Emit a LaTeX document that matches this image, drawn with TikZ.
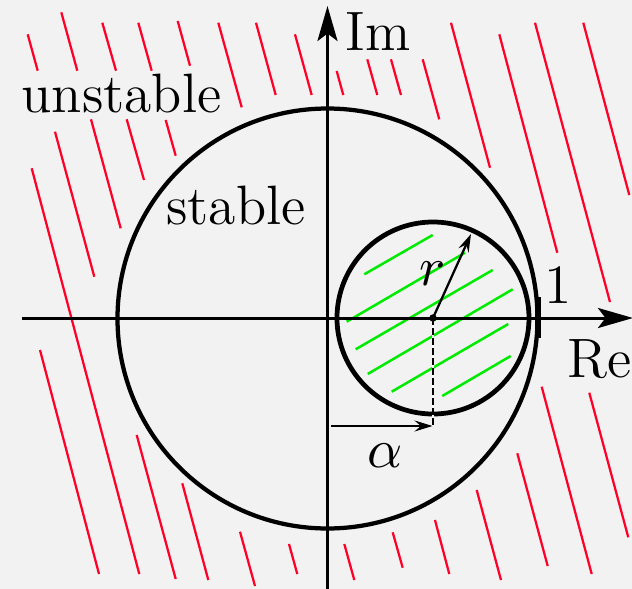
\documentclass[tikz,border=0pt]{standalone}
\usepackage{fontspec}
\usetikzlibrary{arrows.meta}
\definecolor{bgc}{RGB}{242,242,242}
\definecolor{hatchred}{RGB}{255,0,40}
\definecolor{hatchgreen}{RGB}{0,235,0}
\begin{document}
\begin{tikzpicture}[x=0.2pt,y=-0.2pt,
  lbl/.style={inner sep=0pt, font=\fontsize{11.1}{13}\selectfont},
  axisline/.style={line width=0.6pt, -{Stealth[length=7pt,width=4pt,inset=1.5pt]}},
  redh/.style={draw=hatchred, line width=0.45pt},
  greenh/.style={draw=hatchgreen, line width=0.5pt},
  thinarrow/.style={line width=0.45pt, -{Stealth[length=3.6pt,width=2.2pt,inset=1.3pt]}},
  bigcircle/.style={line width=0.85pt},
  smallcircle/.style={line width=0.95pt},
  dashline/.style={line width=0.45pt, dash pattern=on 1.3pt off 0.7pt, preaction={draw=white, line width=0.45pt}},
  ]
\fill[bgc] (0,0) rectangle (632,589);
\useasboundingbox (0,0) rectangle (632,589);

% red hatching (unstable region)
\foreach \a/\b/\c/\d in {
  27.7/34.3/37.7/70.7, 61.3/12.3/77.3/70.7, 102.3/22.7/116/70.7,
  138.3/22.7/151.7/70.7, 177.7/21/190/65.7, 218.3/22.7/241.7/107.3,
  256/22.7/275.7/95, 295/34.3/311.7/95,
  55/131.7/94.3/276.7, 91/119.3/120.7/228.3, 126.7/119.3/144/180,
  165.7/120/175.7/155.7, 31.7/168.3/139.3/574, 40/350/99/574,
  136.7/435/175.7/579, 182.3/483.3/208.3/580, 240/531.7/255/586,
  289/544/297.3/574,
  336.7/71/343.3/95, 367.3/59.3/377.3/95, 391/59.3/401/95,
  422.7/59.3/439.3/119.3, 451/22.7/490/167.7, 499.3/34.3/557.3/252.7,
  535/22.7/610/302, 583.3/22.7/629.3/195,
  344.3/544/354.3/580, 392.7/532.3/402.7/567.7, 435/520/449.3/574,
  476.7/490/501/580, 517.3/453.3/547.7/566, 541.7/386.7/591.7/574,
  589.3/392.7/628.3/537.3}
  \draw[redh] (\a,\b) -- (\c,\d);

% green hatching (small disc)
\foreach \a/\b/\c/\d in {
  364.3/274.3/432.7/235, 346.7/321.7/465/252.7, 355.7/349.3/492.7/270,
  367.7/374/512.7/289.3, 391.7/391.7/508.3/324, 442.3/396/510.7/356}
  \draw[greenh] (\a,\b) -- (\c,\d);

% circles
\coordinate (O) at (327.5,318.5);
\coordinate (c) at (433,318);
\draw[bigcircle] (O) circle[radius=210];
\draw[smallcircle] (c) circle[radius=96];

% axes
\coordinate (xs) at (22,318);
\coordinate (xe) at (633,318);
\coordinate (ys) at (327.5,592);
\coordinate (ye) at (327.5,6);
\draw[axisline] (xs) -- (xe);
\draw[axisline] (ys) -- (ye);

% tick at 1
\coordinate (t1) at (538,297);
\coordinate (t2) at (538,338);
\draw[line width=1.25pt] (t1) -- (t2);

% alpha and r
\coordinate (cb) at (433,426);
\coordinate (a0) at (331,426);
\coordinate (a1) at (432.5,426);
\coordinate (rtip) at (471,234);
\draw[dashline] (c) -- (cb);
\draw[thinarrow] (a0) -- (a1);
\draw[thinarrow] (c) -- (rtip);
\node[circle, fill, inner sep=0pt, minimum size=1.5pt] (cdot) at (c) {};

% labels
\node[lbl, anchor=base] (unst) at (121.5,112) {unstable};
\node[lbl, anchor=base] (st) at (236,224) {stable};
\node[lbl, anchor=base west] (im) at (345,50) {Im};
\node[lbl, anchor=base west] (re) at (566.5,377) {Re};
\node[lbl, anchor=base] (one) at (558.5,303) {1};
\node[lbl, anchor=base] (rl) at (433,285) {$r$};
\node[lbl, anchor=base] (al) at (385.5,467) {$\alpha$};
\end{tikzpicture}
\end{document}
